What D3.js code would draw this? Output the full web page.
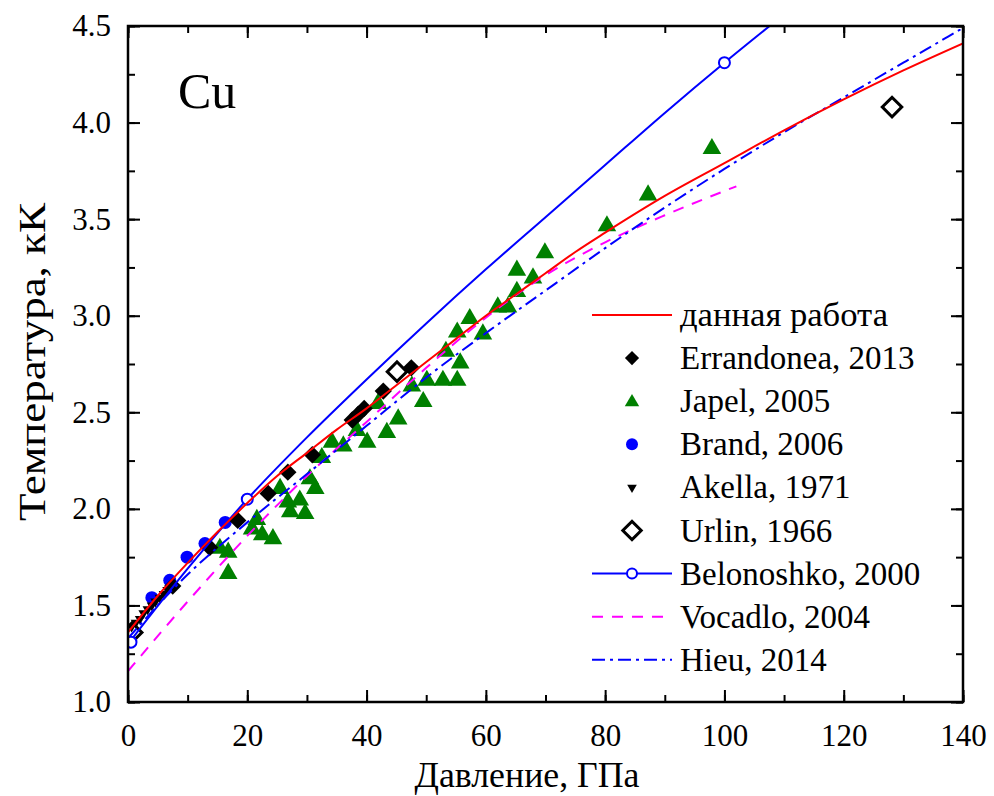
<!DOCTYPE html>
<html><head><meta charset="utf-8">
<script src="https://cdn.jsdelivr.net/npm/d3@7"></script>
<style>
body{margin:0;background:#fff}
svg{display:block}
text{font-family:"Liberation Serif","Times New Roman",serif;fill:#000}
</style>
</head><body>
<svg id="c" width="994" height="796"></svg>
<script>
// ---------------- DATA ----------------
const xTickValues = [0, 20, 40, 60, 80, 100, 120, 140];
const xTickLabels = ["0", "20", "40", "60", "80", "100", "120", "140"];
const yTickValues = [1.0, 1.5, 2.0, 2.5, 3.0, 3.5, 4.0, 4.5];
const yTickLabels = ["1.0", "1.5", "2.0", "2.5", "3.0", "3.5", "4.0", "4.5"];

// данная работа (this work)
const thisWorkP = [0, 5, 10, 15, 20, 25, 30, 35, 40, 45, 50, 55, 60, 65, 70, 75, 80, 90, 100, 110, 120, 130, 140];
const thisWorkT = [1.36, 1.55, 1.72, 1.88, 2.03, 2.17, 2.29, 2.41, 2.52, 2.64, 2.76, 2.88, 3.0, 3.11, 3.22, 3.33, 3.43, 3.62, 3.79, 3.96, 4.12, 4.27, 4.41];

// Belonoshko, 2000 (line), with open-circle markers
const belP = [0, 10, 20, 30, 40, 50, 60, 70, 80, 90, 100, 110];
const belT = [1.30, 1.69, 2.05, 2.37, 2.67, 2.96, 3.24, 3.51, 3.78, 4.05, 4.31, 4.56];
const belMarkP = [0.5, 20, 100];
const belMarkT = [1.31, 2.05, 4.31];

// Vocadlo, 2004
const vocP = [0, 10, 20, 30, 40, 50, 60, 70, 80, 90, 102];
const vocT = [1.16, 1.52, 1.86, 2.17, 2.45, 2.73, 2.99, 3.21, 3.38, 3.52, 3.67];

// Hieu, 2014
const hieuP = [0, 10, 20, 30, 40, 50, 60, 70, 80, 90, 100, 110, 120, 130, 140];
const hieuT = [1.33, 1.66, 1.93, 2.18, 2.43, 2.68, 2.91, 3.13, 3.35, 3.56, 3.76, 3.95, 4.13, 4.31, 4.49];

// Errandonea, 2013
const errP = [7.5, 13.7, 18.4, 23.5, 26.8, 30.9, 37.6, 38.6, 39.6, 42.8, 47.5];
const errT = [1.60, 1.80, 1.94, 2.08, 2.19, 2.28, 2.46, 2.49, 2.52, 2.61, 2.73];

// Japel, 2005
const japP = [15.4, 16.8, 16.8, 20.8, 21.6, 22.5, 24.3, 25.5, 26.8, 27.2, 28.8, 29.7, 30.5, 31.4, 32.5, 34.2, 36.1, 38.4, 40.1, 41.9, 43.4, 45.3, 47.6, 49.5, 50.1, 52.8, 53.3, 55.2, 55.7, 55.2, 57.3, 59.5, 62.0, 63.7, 65.2, 65.2, 67.9, 69.9, 80.3, 87.2, 97.9];
const japT = [1.80, 1.67, 1.78, 1.90, 1.95, 1.87, 1.85, 2.11, 2.04, 1.99, 2.05, 1.98, 2.16, 2.11, 2.27, 2.35, 2.33, 2.41, 2.35, 2.55, 2.40, 2.47, 2.64, 2.56, 2.67, 2.67, 2.82, 2.67, 2.76, 2.92, 2.99, 2.91, 3.05, 3.05, 3.13, 3.24, 3.20, 3.33, 3.47, 3.63, 3.87];

// Brand, 2006
const brandP = [4.0, 7.0, 9.9, 12.9, 16.3];
const brandT = [1.54, 1.63, 1.75, 1.82, 1.93];

// Akella, 1971
const akeP = [0.6, 1.3, 2.0, 2.6, 3.3, 4.0, 4.6, 5.3, 6.0, 6.6];
const akeT = [1.39, 1.41, 1.43, 1.46, 1.48, 1.50, 1.52, 1.54, 1.56, 1.58];

// Urlin, 1966
const urlP = [0.7, 45.1, 128.1];
const urlT = [1.36, 2.71, 4.08];

const legendLabels = ["данная работа", "Errandonea, 2013", "Japel, 2005", "Brand, 2006", "Akella, 1971", "Urlin, 1966", "Belonoshko, 2000", "Vocadlo, 2004", "Hieu, 2014"];

// ---------------- CHART ----------------
const W = 994, H = 796;
const m = {left: 128, right: 31, top: 26, bottom: 94};
const svg = d3.select("#c");
const x = d3.scaleLinear().domain([0, 140]).range([m.left, W - m.right]);
const y = d3.scaleLinear().domain([1.0, 4.5]).range([H - m.bottom, m.top]);

const zip = (a, b) => a.map((v, i) => [v, b[i]]);

svg.append("defs").append("clipPath").attr("id", "clip")
  .append("rect").attr("x", m.left).attr("y", m.top)
  .attr("width", x(140) - x(0)).attr("height", y(1) - y(4.5));

// axes (ticks inward)
const minorX = d3.range(0, 141, 10);
const minorY = d3.range(1.0, 4.51, 0.25);
function axisGroup(axis, tr) {
  const g = svg.append("g").attr("transform", tr).call(axis);
  g.select(".domain").remove();
  g.selectAll("line").attr("stroke", "#000").attr("stroke-width", 2);
  return g;
}
axisGroup(d3.axisBottom(x).tickValues(minorX).tickSize(-7).tickFormat(""), `translate(0,${y(1)})`);
axisGroup(d3.axisTop(x).tickValues(minorX).tickSize(-7).tickFormat(""), `translate(0,${y(4.5)})`);
axisGroup(d3.axisLeft(y).tickValues(minorY).tickSize(-7).tickFormat(""), `translate(${x(0)},0)`);
axisGroup(d3.axisRight(y).tickValues(minorY).tickSize(-7).tickFormat(""), `translate(${x(140)},0)`);

const gx = axisGroup(d3.axisBottom(x).tickValues(xTickValues).tickSize(-12).tickPadding(22)
  .tickFormat((d, i) => xTickLabels[i]), `translate(0,${y(1)})`);
gx.selectAll("text").attr("font-size", 31).attr("font-family", '"Liberation Serif",serif').attr("fill", "#000");
axisGroup(d3.axisTop(x).tickValues(xTickValues).tickSize(-12).tickFormat(""), `translate(0,${y(4.5)})`);
const gy = axisGroup(d3.axisLeft(y).tickValues(yTickValues).tickSize(-12).tickPadding(17)
  .tickFormat((d, i) => yTickLabels[i]), `translate(${x(0)},0)`);
gy.selectAll("text").attr("font-size", 31).attr("font-family", '"Liberation Serif",serif').attr("fill", "#000");
axisGroup(d3.axisRight(y).tickValues(yTickValues).tickSize(-12).tickFormat(""), `translate(${x(140)},0)`);

// markers
const plot = svg.append("g").attr("clip-path", "url(#clip)");
const sym = (type, size) => d3.symbol().type(type).size(size)();

plot.selectAll(".jap").data(zip(japP, japT)).join("path")
  .attr("d", sym(d3.symbolTriangle, 150))
  .attr("transform", d => `translate(${x(d[0])},${y(d[1]) + 1})`)
  .attr("fill", "#008000");
plot.selectAll(".brand").data(zip(brandP, brandT)).join("circle")
  .attr("cx", d => x(d[0])).attr("cy", d => y(d[1])).attr("r", 6.5).attr("fill", "#0000ff");
plot.selectAll(".ake").data(zip(akeP, akeT)).join("path")
  .attr("d", sym(d3.symbolTriangle, 45))
  .attr("transform", d => `translate(${x(d[0])},${y(d[1])}) rotate(180)`)
  .attr("fill", "#000");
plot.selectAll(".err").data(zip(errP, errT)).join("path")
  .attr("d", sym(d3.symbolSquare, 150))
  .attr("transform", d => `translate(${x(d[0])},${y(d[1])}) rotate(45)`)
  .attr("fill", "#000");
plot.selectAll(".url").data(zip(urlP, urlT)).join("path")
  .attr("d", sym(d3.symbolSquare, 190))
  .attr("transform", d => `translate(${x(d[0])},${y(d[1])}) rotate(45)`)
  .attr("fill", "none").attr("stroke", "#000").attr("stroke-width", 3);

// lines
const line = d3.line().x(d => x(d[0])).y(d => y(d[1])).curve(d3.curveMonotoneX);
plot.append("path").datum(zip(vocP, vocT)).attr("d", line)
  .attr("fill", "none").attr("stroke", "#ff00ff").attr("stroke-width", 2).attr("stroke-dasharray", "11,9");
plot.append("path").datum(zip(hieuP, hieuT)).attr("d", line)
  .attr("fill", "none").attr("stroke", "#0000ff").attr("stroke-width", 2).attr("stroke-dasharray", "13,5,3,5");
plot.append("path").datum(zip(belP, belT)).attr("d", line)
  .attr("fill", "none").attr("stroke", "#0000ff").attr("stroke-width", 2);
plot.selectAll(".bel").data(zip(belMarkP, belMarkT)).join("circle")
  .attr("cx", d => x(d[0])).attr("cy", d => y(d[1])).attr("r", 5.5)
  .attr("fill", "#fff").attr("stroke", "#0000ff").attr("stroke-width", 2);
plot.append("path").datum(zip(thisWorkP, thisWorkT)).attr("d", line)
  .attr("fill", "none").attr("stroke", "#ff0000").attr("stroke-width", 2);

// frame
svg.append("rect").attr("x", x(0)).attr("y", y(4.5))
  .attr("width", x(140) - x(0)).attr("height", y(1) - y(4.5))
  .attr("fill", "none").attr("stroke", "#000").attr("stroke-width", 2.5);

// labels
svg.append("text").attr("x", 178).attr("y", 108).attr("font-size", 50).text("Cu");
svg.append("text").attr("x", 527).attr("y", 787)
  .attr("text-anchor", "middle").attr("font-size", 35)
  .attr("textLength", 225).attr("lengthAdjust", "spacingAndGlyphs").text("Давление, ГПа");
svg.append("text").attr("transform", "translate(45,362) rotate(-90)")
  .attr("text-anchor", "middle").attr("font-size", 37)
  .attr("textLength", 318).attr("lengthAdjust", "spacingAndGlyphs").text("Температура, кК");

// legend
const lg = svg.append("g");
const ly0 = 315, ldy = 43.1, lx0 = 592, lx1 = 672, lxc = 632, ltx = 680;
legendLabels.forEach((lab, i) => {
  const yy = ly0 + i * ldy;
  const t = lg.append("text").attr("x", ltx).attr("y", yy + 11).attr("font-size", 33).text(lab);
  if (i === 0) t.attr("textLength", 208).attr("lengthAdjust", "spacingAndGlyphs");
});
const ly = i => ly0 + i * ldy;
lg.append("line").attr("x1", lx0).attr("x2", lx1).attr("y1", ly(0)).attr("y2", ly(0)).attr("stroke", "#ff0000").attr("stroke-width", 2);
lg.append("path").attr("d", sym(d3.symbolSquare, 100)).attr("transform", `translate(${lxc},${ly(1)}) rotate(45)`).attr("fill", "#000");
lg.append("path").attr("d", sym(d3.symbolTriangle, 90)).attr("transform", `translate(${lxc},${ly(2) + 1})`).attr("fill", "#008000");
lg.append("circle").attr("cx", lxc).attr("cy", ly(3)).attr("r", 6).attr("fill", "#0000ff");
lg.append("path").attr("d", sym(d3.symbolTriangle, 40)).attr("transform", `translate(${lxc},${ly(4)}) rotate(180)`).attr("fill", "#000");
lg.append("path").attr("d", sym(d3.symbolSquare, 170)).attr("transform", `translate(${lxc},${ly(5)}) rotate(45)`).attr("fill", "none").attr("stroke", "#000").attr("stroke-width", 3);
lg.append("line").attr("x1", lx0).attr("x2", lx1).attr("y1", ly(6)).attr("y2", ly(6)).attr("stroke", "#0000ff").attr("stroke-width", 2);
lg.append("circle").attr("cx", lxc).attr("cy", ly(6)).attr("r", 5).attr("fill", "#fff").attr("stroke", "#0000ff").attr("stroke-width", 2);
lg.append("line").attr("x1", lx0).attr("x2", lx1).attr("y1", ly(7)).attr("y2", ly(7)).attr("stroke", "#ff00ff").attr("stroke-width", 2).attr("stroke-dasharray", "11,9");
lg.append("line").attr("x1", lx0).attr("x2", lx1).attr("y1", ly(8)).attr("y2", ly(8)).attr("stroke", "#0000ff").attr("stroke-width", 2).attr("stroke-dasharray", "13,5,3,5");
</script>
</body></html>
